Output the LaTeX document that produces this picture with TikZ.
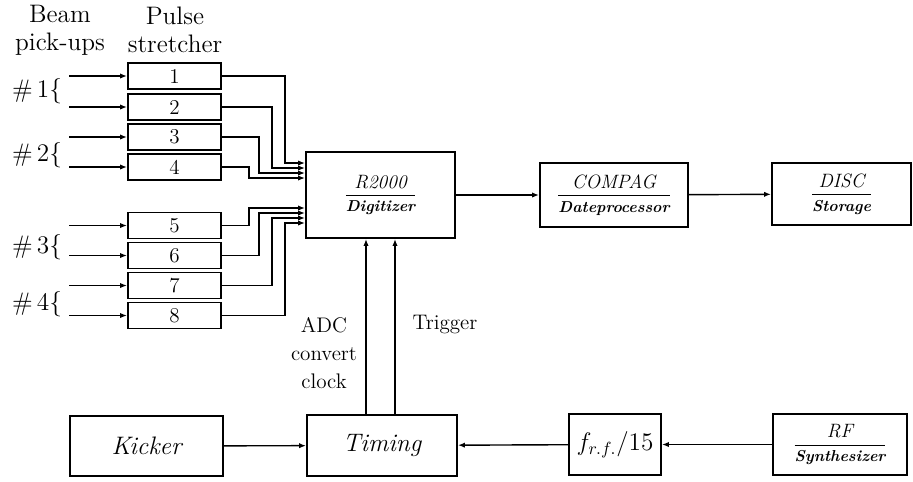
\documentclass[tikz,border=0pt]{standalone}
\usepackage{amsmath,amssymb}
\usepackage{fontspec}
\usepackage{tikz}
\usetikzlibrary{arrows.meta,positioning}

\newcommand{\ttl}[2]{$\genfrac{}{}{0.6pt}{0}{\mbox{\fontsize{11pt}{13pt}\selectfont\itshape #1}}{\mbox{\small\bfseries\itshape #2}}$}

\begin{document}
\begin{tikzpicture}[
  x=0.02cm,y=-0.02cm,
  >={Latex[length=4pt,width=3pt]},
  ps/.style={draw,line width=1pt,minimum width=1.86cm,minimum height=0.52cm,
             inner sep=0pt,font=\large},
  bx/.style={draw,line width=1pt,inner sep=0pt,align=center},
  lbl/.style={align=center,font=\Large,inner sep=0pt}
]
  \useasboundingbox (0,0) rectangle (913,481);
  % headings
  \node[lbl] (hbeam)  at (60,30)  {Beam\\[-2pt]pick-ups};
  \node[lbl] (hpulse) at (175,30) {Pulse\\[-2pt]stretcher};
  % pulse stretchers
  \node[ps] (ps1) at (174.5,76)    {1};
  \node[ps] (ps2) at (174.5,107)   {2};
  \node[ps] (ps3) at (174.5,137)   {3};
  \node[ps] (ps4) at (174.5,167)   {4};
  \node[ps] (ps5) at (174.5,225.5) {5};
  \node[ps] (ps6) at (174.5,255.5) {6};
  \node[ps] (ps7) at (174.5,285.5) {7};
  \node[ps] (ps8) at (174.5,315.5) {8};
  \node[lbl] (pu1) at (37,91)  {\#\,1\{};
  \node[lbl] (pu2) at (37,155) {\#\,2\{};
  \node[lbl] (pu3) at (37,247) {\#\,3\{};
  \node[lbl] (pu4) at (37,304) {\#\,4\{};
  \coordinate[left=1.16cm of ps1.west] (in1);
  \coordinate[left=1.16cm of ps2.west] (in2);
  \coordinate[left=1.16cm of ps3.west] (in3);
  \coordinate[left=1.16cm of ps4.west] (in4);
  \coordinate[left=1.16cm of ps5.west] (in5);
  \coordinate[left=1.16cm of ps6.west] (in6);
  \coordinate[left=1.16cm of ps7.west] (in7);
  \coordinate[left=1.16cm of ps8.west] (in8);
  \draw[->,thick] (in1) -- (ps1);
  \draw[->,thick] (in2) -- (ps2);
  \draw[->,thick] (in3) -- (ps3);
  \draw[->,thick] (in4) -- (ps4);
  \draw[->,thick] (in5) -- (ps5);
  \draw[->,thick] (in6) -- (ps6);
  \draw[->,thick] (in7) -- (ps7);
  \draw[->,thick] (in8) -- (ps8);
  % main chain
  \node[bx,minimum width=2.98cm,minimum height=1.72cm] (dig) at (380.5,195)
    {\ttl{R2000}{Digitizer}};
  \node[bx,minimum width=2.96cm,minimum height=1.28cm] (comp) at (614,195)
    {\ttl{COMPAG}{Dateprocessor}};
  \node[bx,minimum width=2.78cm,minimum height=1.24cm] (disc) at (841.5,194)
    {\ttl{DISC}{Storage}};
  \draw[->,thick] (dig) -- (comp);
  \draw[->,thick] (comp) -- (disc);
  % stretchers into digitizer
  \draw[->,thick] (ps1.east) -| ([xshift=-0.40cm,yshift=0.64cm]dig.west) -- ([yshift=0.64cm]dig.west);
  \draw[->,thick] (ps2.east) -| ([xshift=-0.66cm,yshift=0.54cm]dig.west) -- ([yshift=0.54cm]dig.west);
  \draw[->,thick] (ps3.east) -| ([xshift=-0.92cm,yshift=0.44cm]dig.west) -- ([yshift=0.44cm]dig.west);
  \draw[->,thick] (ps4.east) -| ([xshift=-1.12cm,yshift=0.34cm]dig.west) -- ([yshift=0.34cm]dig.west);
  \draw[->,thick] (ps5.east) -| ([xshift=-1.12cm,yshift=-0.26cm]dig.west) -- ([yshift=-0.26cm]dig.west);
  \draw[->,thick] (ps6.east) -| ([xshift=-0.92cm,yshift=-0.36cm]dig.west) -- ([yshift=-0.36cm]dig.west);
  \draw[->,thick] (ps7.east) -| ([xshift=-0.66cm,yshift=-0.46cm]dig.west) -- ([yshift=-0.46cm]dig.west);
  \draw[->,thick] (ps8.east) -| ([xshift=-0.40cm,yshift=-0.56cm]dig.west) -- ([yshift=-0.56cm]dig.west);
  % timing row
  \node[bx,minimum width=3.06cm,minimum height=1.2cm,font=\Large\itshape] (kick) at (146.5,446) {Kicker};
  \node[bx,minimum width=3.0cm,minimum height=1.22cm,font=\Large\itshape] (tim) at (382,445.5) {Timing};
  \node[bx,minimum width=1.84cm,minimum height=1.22cm,font=\Large] (frf) at (615,444.5) {$f_{r.f.}/15$};
  \node[bx,minimum width=2.68cm,minimum height=1.22cm] (rf) at (840,444.5)
    {\ttl{RF}{Synthesizer}};
  \draw[->,thick] (kick) -- (tim);
  \draw[->,thick] (rf) -- (frf);
  \draw[->,thick] (frf) -- (tim);
  \draw[->,thick] ([xshift=-0.32cm]tim.north) -- ([xshift=-0.32cm]tim.north |- dig.south);
  \draw[->,thick] ([xshift=0.26cm]tim.north) -- ([xshift=0.26cm]tim.north |- dig.south);
  \node[lbl,font=\large] (adc) at (324,353) {ADC\\[2pt]convert\\[2pt]clock};
  \node[lbl,font=\large] (trig) at (445,325) {Trigger};
\end{tikzpicture}
\end{document}
